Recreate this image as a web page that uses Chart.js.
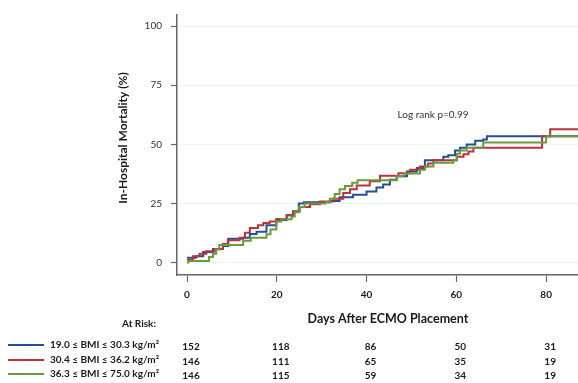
<!DOCTYPE html>
<html>
<head>
<meta charset="utf-8">
<script src="https://cdn.jsdelivr.net/npm/chart.js@4.4.1/dist/chart.umd.min.js"></script>
<style>
  html, body { margin: 0; padding: 0; background: #fff; }
  #wrap { width: 578px; height: 383px; }
</style>
</head>
<body>
<div id="wrap"><canvas id="km" width="578" height="383"></canvas></div>
<script>
// Kaplan-Meier style cumulative in-hospital mortality, by BMI tertile
const groupLabels = ['19.0 ≤ BMI ≤ 30.3 kg/m²', '30.4 ≤ BMI ≤ 36.2 kg/m²', '36.3 ≤ BMI ≤ 75.0 kg/m²'];

const lowDays = [0, 2, 3.6, 5.8, 8, 9.2, 12.5, 14, 15.5, 17.7, 19.9, 22.2, 23.6, 24.9, 26, 31.8, 34, 37, 40, 42.2, 43.7, 45.2, 46.7, 49, 51.2, 53, 57.1, 58.2, 59.7, 60.8, 62.3, 64.2, 66, 66.8, 87.2];
const lowMortality = [2, 2.6, 4.4, 5.7, 7, 10, 10.5, 12, 13, 15.7, 18, 20, 21.5, 25, 25.5, 26, 27.6, 28.7, 30, 31.7, 33, 35, 36.5, 38.5, 40, 43.3, 44.7, 45.4, 47.4, 48.5, 49.9, 51.5, 52, 53.4, 53.4];

const midDays = [0, 1.3, 2.8, 4.3, 6.2, 8, 9.1, 11.7, 12.9, 14, 15.8, 17, 18.4, 19.9, 22.2, 23.6, 25.1, 27.4, 29.6, 32.6, 34.8, 36.3, 37.8, 40.7, 43, 47.1, 49.7, 51.9, 53.7, 54.9, 60.1, 61.6, 62.7, 63.8, 79.1, 80.9, 87.2];
const midMortality = [1.2, 2.6, 3.7, 4.8, 5.7, 7.8, 9.4, 10.5, 12.6, 14.6, 15.7, 16.7, 17.3, 18.4, 20, 21.7, 23.5, 24.6, 25.8, 27, 29.4, 31, 32.6, 34.4, 36.7, 37.8, 39.2, 40.6, 41.9, 43.3, 44.7, 45.8, 47, 48.5, 53.4, 56.4, 56.4];

const highDays = [0, 0.3, 4.9, 5.8, 6.5, 7.2, 12.5, 14.2, 17.7, 18.6, 19.9, 21, 23.3, 24, 25, 26.2, 30.8, 31.8, 32.9, 34, 35.2, 36.8, 38, 46.7, 48.3, 51.9, 53, 54.9, 59.3, 60.1, 60.8, 62.3, 66, 80, 87.2];
const highMortality = [0, 0.6, 2.3, 3.7, 5.5, 7.4, 9.2, 10.5, 11.9, 13.9, 17.3, 18.3, 19.4, 21.2, 23.5, 24.9, 25.5, 27, 29, 31, 32.4, 33.7, 34.8, 36.5, 37.6, 39.2, 40.6, 42.2, 43.3, 46, 47.4, 48.5, 50.8, 53.4, 53.4];

const xTicks = [0, 20, 40, 60, 80];
const yTicks = [0, 25, 50, 75, 100];

// numbers at risk, at the x tick days
const atRiskDays = [0, 20, 40, 60, 80];
const atRiskLow = [152, 118, 86, 50, 31];
const atRiskMid = [146, 111, 65, 35, 19];
const atRiskHigh = [146, 115, 59, 34, 19];

const colors = ['#24508f', '#b8323f', '#6a9a3c'];
const FONT = 'Lato, "Open Sans", sans-serif';

const toPoints = (xs, ys) => xs.map((x, i) => ({ x: x, y: ys[i] }));

const annotations = {
  id: 'annotations',
  afterDraw(chart) {
    const ctx = chart.ctx;
    const xs = chart.scales.x;
    const ys = chart.scales.y;
    ctx.save();
    ctx.fillStyle = '#1a1a1a';
    ctx.textAlign = 'center';
    ctx.textBaseline = 'middle';

    // y title
    ctx.save();
    ctx.translate(123, 138);
    ctx.rotate(-Math.PI / 2);
    ctx.font = 'bold 12px ' + FONT;
    ctx.fillText('In-Hospital Mortality (%)', 0, 0);
    ctx.restore();

    // x title
    ctx.font = 'bold 12.5px ' + FONT;
    ctx.fillText('Days After ECMO Placement', 388, 319);

    // log rank
    ctx.font = '10px ' + FONT;
    ctx.fillStyle = '#333';
    ctx.fillText('Log rank p=0.99', xs.getPixelForValue(54.8), ys.getPixelForValue(62.3));

    // at risk table
    ctx.fillStyle = '#1a1a1a';
    ctx.font = 'bold 10px ' + FONT;
    ctx.fillText('At Risk:', 139, 324);

    const rows = [atRiskLow, atRiskMid, atRiskHigh];
    const rowY = [345, 360, 374];
    rows.forEach((vals, r) => {
      ctx.strokeStyle = colors[r];
      ctx.lineWidth = 2;
      ctx.beginPath();
      ctx.moveTo(8, rowY[r]);
      ctx.lineTo(44, rowY[r]);
      ctx.stroke();

      ctx.textAlign = 'left';
      ctx.font = 'bold 10px ' + FONT;
      ctx.fillText(groupLabels[r], 50, rowY[r]);

      ctx.textAlign = 'center';
      ctx.font = 'bold 10px ' + FONT;
      vals.forEach((v, i) => {
        ctx.fillText(String(v), xs.getPixelForValue(atRiskDays[i]) + 4, rowY[r] + 2);
      });
    });
    ctx.restore();
  }
};

new Chart(document.getElementById('km'), {
  type: 'line',
  data: {
    datasets: [
      { label: groupLabels[0], data: toPoints(lowDays, lowMortality), borderColor: colors[0], order: 2 },
      { label: groupLabels[1], data: toPoints(midDays, midMortality), borderColor: colors[1], order: 1 },
      { label: groupLabels[2], data: toPoints(highDays, highMortality), borderColor: colors[2], order: 0 }
    ]
  },
  options: {
    responsive: false,
    animation: false,
    layout: { padding: { top: 7, right: 0, bottom: 0, left: 0 } },
    elements: {
      line: { stepped: 'before', borderWidth: 2, tension: 0 },
      point: { radius: 0 }
    },
    plugins: {
      legend: { display: false },
      tooltip: { enabled: false }
    },
    scales: {
      x: {
        type: 'linear',
        min: -2.23,
        max: 87.1,
        afterBuildTicks: s => { s.ticks = xTicks.map(v => ({ value: v })); },
        afterFit: s => { s.height = 108; },
        border: { display: true, color: '#666', width: 1.5 },
        grid: { drawOnChartArea: false, drawTicks: true, tickLength: 7, tickColor: '#666', tickWidth: 1.2 },
        ticks: { padding: 7, color: '#1a1a1a', font: { family: FONT, size: 10, weight: 'bold' } }
      },
      y: {
        type: 'linear',
        min: -5.3,
        max: 104.7,
        afterBuildTicks: s => { s.ticks = yTicks.map(v => ({ value: v })); },
        afterFit: s => { s.width = 177; },
        border: { display: true, color: '#666', width: 1.5 },
        grid: { color: 'rgba(205,220,235,0.35)', drawTicks: true, tickLength: 6, tickColor: '#666', tickWidth: 1.2 },
        ticks: { padding: 9, color: '#333', font: { family: FONT, size: 10 } }
      }
    }
  },
  plugins: [annotations]
});
</script>
</body>
</html>
